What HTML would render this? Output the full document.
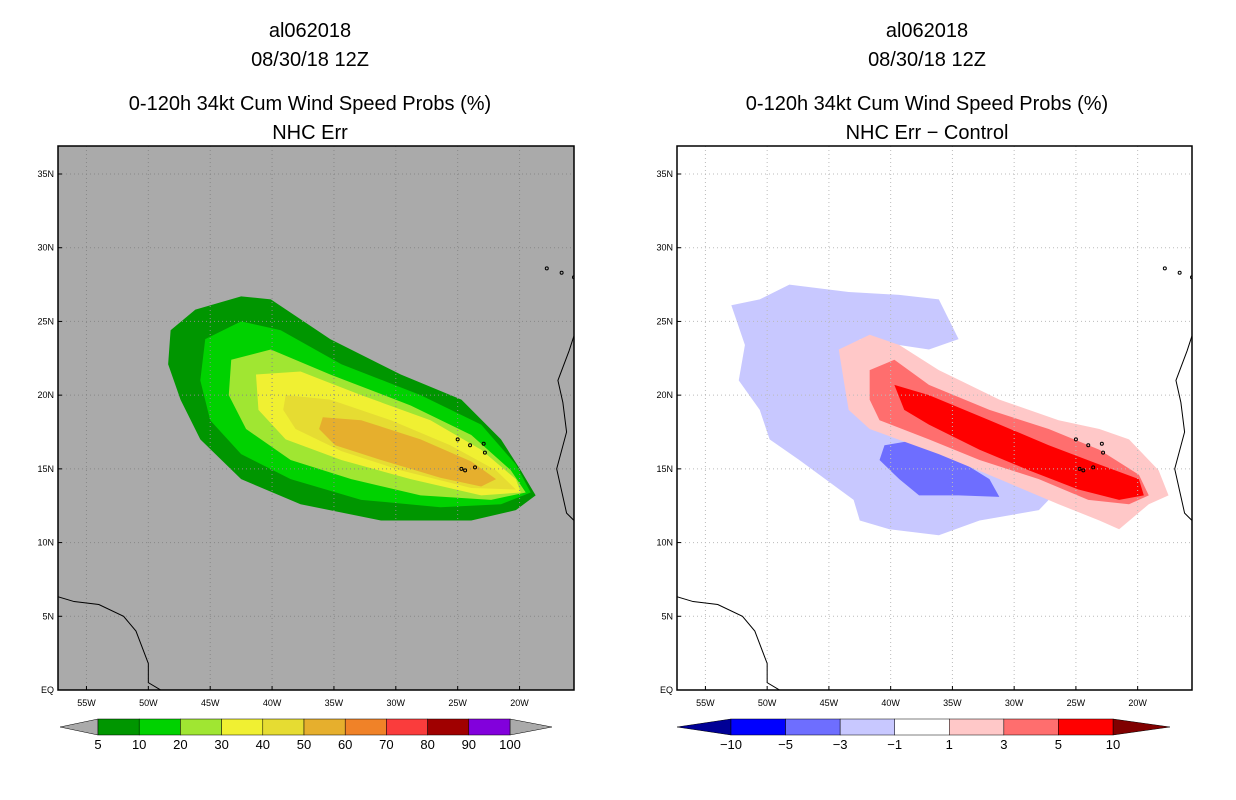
<!DOCTYPE html>
<html><head><meta charset="utf-8"><style>
body{margin:0;background:#fff;width:1236px;height:800px;overflow:hidden}
svg{display:block}
text{font-family:"Liberation Sans",sans-serif;fill:#000}
</style></head><body>
<svg id="c" width="1236" height="800"></svg>
<script>
// ---- data (lon, lat) ----
const latTicks=[0,5,10,15,20,25,30,35];
const latLabels=["EQ","5N","10N","15N","20N","25N","30N","35N"];
const lonTicks=[-55,-50,-45,-40,-35,-30,-25,-20];
const lonLabels=["55W","50W","45W","40W","35W","30W","25W","20W"];
const leftLevels=["5","10","20","30","40","50","60","70","80","90","100"];
const leftColors=["#009600","#00d200","#a0e632","#f0f032","#e6dc32","#e6af2d","#f08228","#fa3c3c","#a00000","#8200dc"];
const rightLevels=["-10","-5","-3","-1","1","3","5","10"];
const rightColors=["#0000ff","#6e6eff","#c8c8ff","#ffffff","#ffc8c8","#ff6e6e","#ff0000"];
const leftContours=[
 {c:"#009600",p:[[-48.2,24.4],[-46.2,25.8],[-42.5,26.7],[-40.1,26.5],[-35.3,23.8],[-29.6,21.4],[-24.7,19.7],[-21.5,17.0],[-19.9,14.9],[-18.7,13.2],[-20.3,12.2],[-23.9,11.5],[-31.2,11.5],[-37.7,12.6],[-42.5,14.3],[-45.8,17.0],[-47.4,19.7],[-48.4,22.1]]},
 {c:"#00d200",p:[[-45.4,23.8],[-42.5,25.0],[-39.3,24.4],[-34.4,22.1],[-28.0,20.0],[-23.1,18.0],[-20.3,15.3],[-19.1,13.4],[-21.5,12.6],[-26.4,12.4],[-32.8,12.9],[-38.5,14.3],[-42.5,16.0],[-45.0,18.3],[-45.8,21.0]]},
 {c:"#a0e632",p:[[-43.3,22.4],[-40.1,23.1],[-35.3,21.4],[-28.8,19.3],[-23.9,17.3],[-20.7,14.9],[-19.5,13.4],[-22.3,12.9],[-28.0,13.2],[-33.6,14.3],[-38.5,15.6],[-42.1,17.7],[-43.5,20.0]]},
 {c:"#f0f032",p:[[-41.3,21.4],[-37.7,21.6],[-32.8,20.0],[-27.2,18.3],[-23.1,16.3],[-20.3,14.3],[-19.9,13.4],[-23.1,13.2],[-28.8,14.3],[-34.4,15.6],[-38.9,17.0],[-41.1,19.0]]},
 {c:"#e6dc32",p:[[-38.9,20.0],[-35.3,19.7],[-30.4,18.3],[-25.6,16.6],[-21.9,14.9],[-20.3,13.6],[-23.9,13.7],[-29.6,14.9],[-34.4,16.2],[-38.1,17.7],[-39.1,19.0]]},
 {c:"#e6af2d",p:[[-35.9,18.5],[-32.8,18.3],[-28.0,17.0],[-23.9,15.5],[-21.9,14.3],[-23.1,13.8],[-26.4,14.4],[-31.2,15.6],[-34.9,16.6],[-36.2,17.7]]}
];
const rightContours=[
 {c:"#c8c8ff",p:[[-52.9,26.1],[-50.6,26.5],[-48.2,27.5],[-43.4,27.0],[-39.3,26.8],[-36.1,26.5],[-34.5,23.8],[-36.9,23.1],[-42.5,23.8],[-43.4,21.0],[-39.3,18.3],[-31.2,14.9],[-26.4,13.6],[-28.0,12.2],[-32.8,11.5],[-36.1,10.5],[-40.1,10.9],[-42.5,11.5],[-43.0,12.9],[-47.4,15.6],[-49.8,17.0],[-50.6,19.0],[-52.3,21.0],[-51.8,23.4]]},
 {c:"#6e6eff",p:[[-40.5,16.6],[-37.7,17.0],[-34.5,15.6],[-32.0,14.3],[-31.2,13.1],[-34.5,13.2],[-37.7,13.2],[-39.3,14.3],[-40.9,15.6]]},
 {c:"#ffc8c8",p:[[-44.2,23.1],[-41.7,24.1],[-39.3,23.4],[-36.1,21.7],[-31.2,19.7],[-26.4,18.3],[-23.1,17.7],[-20.7,17.0],[-18.3,14.9],[-17.5,13.2],[-19.1,12.6],[-21.5,10.9],[-23.1,11.5],[-26.4,12.6],[-31.2,14.3],[-36.1,16.0],[-41.7,17.7],[-43.4,19.0],[-43.8,21.0]]},
 {c:"#ff6e6e",p:[[-41.7,21.7],[-39.7,22.4],[-36.9,20.7],[-32.0,19.0],[-27.2,17.7],[-23.1,16.3],[-19.9,14.6],[-19.1,13.2],[-20.7,12.6],[-24.0,12.9],[-28.0,14.3],[-32.8,15.6],[-36.9,17.0],[-40.9,18.3],[-41.7,19.7]]},
 {c:"#ff0000",p:[[-39.7,20.7],[-36.9,20.0],[-32.0,18.3],[-27.2,16.6],[-23.1,15.3],[-19.9,14.3],[-19.5,13.2],[-21.5,12.9],[-24.8,13.6],[-28.8,14.9],[-32.8,16.3],[-36.9,18.0],[-38.9,19.0]]}
];
const saCoast=[[-58,6.5],[-56,6.0],[-54,5.8],[-52,5.0],[-51,4.0],[-50,1.8],[-50,0.5],[-49,0],[-58,0]];
const afCoast=[[-15.3,24.8],[-16.0,23.0],[-16.9,21.0],[-16.5,19.5],[-16.2,17.5],[-17.0,15.0],[-16.6,13.5],[-16.2,12.0],[-15.6,11.5]];
const canaryIslands=[[-16.6,28.3],[-15.6,28.0],[-14.0,28.4],[-13.5,29.0],[-17.8,28.6]];
const cvIslands=[[-25,17],[-24,16.6],[-22.9,16.7],[-22.8,16.1],[-23.6,15.1],[-24.4,14.9],[-24.7,15.0]];

// ---- drawing ----
const NS="http://www.w3.org/2000/svg",svg=document.getElementById('c');
function el(t,a,p){const e=document.createElementNS(NS,t);for(const k in a)e.setAttribute(k,a[k]);(p||svg).appendChild(e);return e;}
function panel(x0,y0,w,h,bg,contours,name){
 const g=el('g',{});
 
 
 const xs=lon=>x0+(lon+57.3)*(w/41.7), ys=lat=>y0+h-lat*(h/36.9);
 el('rect',{x:x0,y:y0,width:w,height:h,fill:bg},g);
 const cp='clip'+name;const d=el('clipPath',{id:cp},g);el('rect',{x:x0,y:y0,width:w,height:h},d);
 const inner=el('g',{'clip-path':`url(#${cp})`},g);
 contours.forEach(c=>{const p=el('polygon',{points:c.p.map(q=>xs(q[0])+','+ys(q[1])).join(' '),fill:c.c},inner);
  });
 lonTicks.forEach((l,i)=>{el('line',{x1:xs(l),x2:xs(l),y1:y0,y2:y0+h,stroke:bg=='#ffffff'?'#bbb':'#888','stroke-dasharray':'1,3'},inner);
  const t=el('text',{x:xs(l),y:y0+h+16,'font-size':9,'text-anchor':'middle'},g);t.textContent=lonLabels[i];
  
  el('line',{x1:xs(l),x2:xs(l),y1:y0+h,y2:y0+h-4,stroke:'#000'},g);});
 latTicks.forEach((l,i)=>{el('line',{x1:x0,x2:x0+w,y1:ys(l),y2:ys(l),stroke:bg=='#ffffff'?'#bbb':'#888','stroke-dasharray':'1,3'},inner);
  const t=el('text',{x:x0-4,y:ys(l)+3,'font-size':9,'text-anchor':'end'},g);t.textContent=latLabels[i];
  
  el('line',{x1:x0,x2:x0+4,y1:ys(l),y2:ys(l),stroke:'#000'},g);});
 el('polyline',{points:saCoast.map(q=>xs(q[0])+','+ys(q[1])).join(' '),fill:'none',stroke:'#000','stroke-width':1},inner);
 el('polyline',{points:afCoast.map(q=>xs(q[0])+','+ys(q[1])).join(' '),fill:'none',stroke:'#000','stroke-width':1},inner);
 canaryIslands.forEach(q=>el('circle',{cx:xs(q[0]),cy:ys(q[1]),r:1.5,fill:'none',stroke:'#000'},inner));
 cvIslands.forEach(q=>el('circle',{cx:xs(q[0]),cy:ys(q[1]),r:1.5,fill:'none',stroke:'#000'},inner));
 el('rect',{x:x0,y:y0,width:w,height:h,fill:'none',stroke:'#000','stroke-width':1.5},g);
}
function titles(cx,l4){
 [["al062018",30],["08/30/18 12Z",59],["0-120h 34kt Cum Wind Speed Probs (%)",103],[l4,132]].forEach(a=>{
  const t=el('text',{x:cx,y:a[1]+7,'font-size':20,'text-anchor':'middle'});t.textContent=a[0];
  });
}
function colorbar(x0,x1,tl,tr,y,levels,colors,under,over,name){
 const g=el('g',{});
 const bw=(x1-x0)/colors.length;
 el('polygon',{points:`${x0-tl},${y+8} ${x0},${y} ${x0},${y+16}`,fill:under,stroke:'#000','stroke-width':0.5},g);
 el('polygon',{points:`${x1+tr},${y+8} ${x1},${y} ${x1},${y+16}`,fill:over,stroke:'#000','stroke-width':0.5},g);
 colors.forEach((c,i)=>el('rect',{x:x0+i*bw,y:y,width:bw,height:16,fill:c,stroke:'#000','stroke-width':0.5},g));
 levels.forEach((l,i)=>{const t=el('text',{x:x0+i*bw,y:y+30,'font-size':13,'text-anchor':'middle'},g);t.textContent=l.replace('-','\u2212');});
}
titles(310,"NHC Err");titles(927,"NHC Err \u2212 Control");
panel(58,146,516,544,'#aaaaaa',leftContours,'left-map');
panel(677,146,515,544,'#ffffff',rightContours,'right-map');
colorbar(98,510,38,42,719,leftLevels,leftColors,'#aaaaaa','#aaaaaa','left-colorbar');
colorbar(731,1113,54,57,719,rightLevels,rightColors,'#000096','#800000','right-colorbar');
</script>
</body></html>
